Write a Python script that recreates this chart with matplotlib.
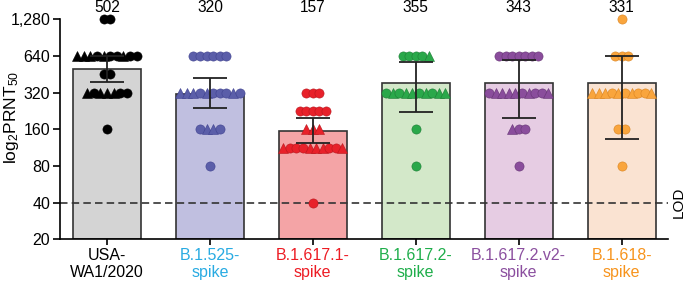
import numpy as np
import matplotlib
matplotlib.use("Agg")
import matplotlib.pyplot as plt
from matplotlib.ticker import FixedLocator, NullLocator
from matplotlib.transforms import blended_transform_factory

plt.rcParams['font.family'] = ['Liberation Sans', 'DejaVu Sans']
plt.rcParams['mathtext.fontset'] = 'custom'
plt.rcParams['mathtext.rm'] = 'Liberation Sans'
plt.rcParams['mathtext.it'] = 'Liberation Sans:italic'

# ---- data ----
labels = ['USA-\nWA1/2020', 'B.1.525-\nspike', 'B.1.617.1-\nspike',
          'B.1.617.2-\nspike', 'B.1.617.2.v2-\nspike', 'B.1.618-\nspike']
label_colors = ['black', '#29abe2', '#ed1c24', '#1fae4b', '#8b4f9f', '#f7941d']
gmt = [502, 320, 157, 355, 343, 331]
bar_top = [500, 312, 155, 385, 385, 382]
err_low = [394, 241, 123, 221, 200, 133]
err_high = [640, 420, 200, 571, 590, 641]
bar_colors = ['#d4d4d4', '#c0bfe0', '#f4a4a6', '#d3e8c9', '#e6cce3', '#fae3d2']
dot_colors = ['#000000', '#5b5ea9', '#e8212a', '#2aa84a', '#8a4d9c', '#f9a53d']
dot_edges = ['#000000', '#3f4290', '#b8161d', '#1c7d35', '#653474', '#d98320']

# titre rows per group, and marker pattern in each row (o = circle, ^ = triangle)
levels = [
    [1280, 640, 452, 320, 160],
    [640, 320, 160, 80],
    [320, 226, 160, 113, 40],
    [640, 320, 160, 80],
    [640, 320, 160, 80],
    [1280, 640, 320, 160, 80],
]
patterns = [
    ['oo', '^^^o^oo^oo', 'oo', '^o^^^oo', 'o'],
    ['oooooo', '^^^o^ooo^o', 'o^^o', 'o'],
    ['ooo', 'ooooo', '^^^', '^ooo^^^oo^', 'o'],
    ['oooo^', 'o^o^^o^o^^', 'o', 'o'],
    ['ooooooo', 'o^^^^o^oo^', '^oo', 'o'],
    ['o', 'ooo', '^^^o^o^oo^', 'oo', 'o'],
]
lod = 40
yticks = [20, 40, 80, 160, 320, 640, 1280]

# ---- figure ----
fig = plt.figure(figsize=(6.85, 2.85), dpi=100)
ax = fig.add_axes([0.0876, 0.160, 0.8875, 0.772])

x = np.arange(len(labels))
ax.bar(x, np.array(bar_top) - 20, bottom=20, width=0.66, color=bar_colors,
       edgecolor='#333333', linewidth=1.2, zorder=1)

spacing = 0.064
for i in range(len(labels)):
    for v, pat in zip(levels[i], patterns[i]):
        n = len(pat)
        offs = (np.arange(n) - (n - 1) / 2) * spacing
        for k, m in enumerate(pat):
            ms = 6.6 if m == 'o' else 7.4
            ax.plot(x[i] + offs[k], v, marker=m, ms=ms, color=dot_colors[i],
                    mec=dot_edges[i], mew=0.4, ls='none', zorder=3, clip_on=False)

yerr = [np.array(gmt) - np.array(err_low), np.array(err_high) - np.array(gmt)]
ax.errorbar(x, gmt, yerr=yerr, fmt='none', ecolor='#222222', elinewidth=1.3,
            capsize=12.5, capthick=1.3, zorder=4)

ax.axhline(lod, color='#333333', ls=(0, (4.5, 2.5)), lw=1.2, zorder=2)
trans = blended_transform_factory(ax.transAxes, ax.transData)
ax.text(1.006, lod, 'LOD', transform=trans, rotation=90, va='center', ha='left',
        fontsize=11)

for i, g in enumerate(gmt):
    ax.annotate(str(g), xy=(x[i], 1280), xytext=(0, 5.2), textcoords='offset points',
                ha='center', va='baseline', fontsize=11.2, annotation_clip=False)

ax.set_yscale('log', base=2)
ax.set_ylim(20, 1280)
ax.set_xlim(-0.456, 5.45)
ax.yaxis.set_major_locator(FixedLocator(yticks))
ax.yaxis.set_minor_locator(NullLocator())
ax.set_yticklabels([f'{t:,}' for t in yticks])
ax.set_xticks(x)
ax.set_xticklabels(labels, linespacing=1.15)
for t, c in zip(ax.get_xticklabels(), label_colors):
    t.set_color(c)

# y label placed in figure pixels so it sits left of the short tick labels
fig.text(2 / 685, 1 - 117 / 285, r'$\mathrm{log_2PRNT_{50}}$', rotation=90,
         ha='left', va='center', fontsize=12.5)

ax.spines['top'].set_visible(False)
ax.spines['right'].set_visible(False)
for s in ['left', 'bottom']:
    ax.spines[s].set_linewidth(1.2)
ax.tick_params(axis='y', direction='out', length=5, width=1.2, labelsize=11.5, pad=2)
ax.tick_params(axis='x', direction='out', length=4, width=1.2, labelsize=11.5, pad=2)

fig.savefig('out.png', dpi=100)
